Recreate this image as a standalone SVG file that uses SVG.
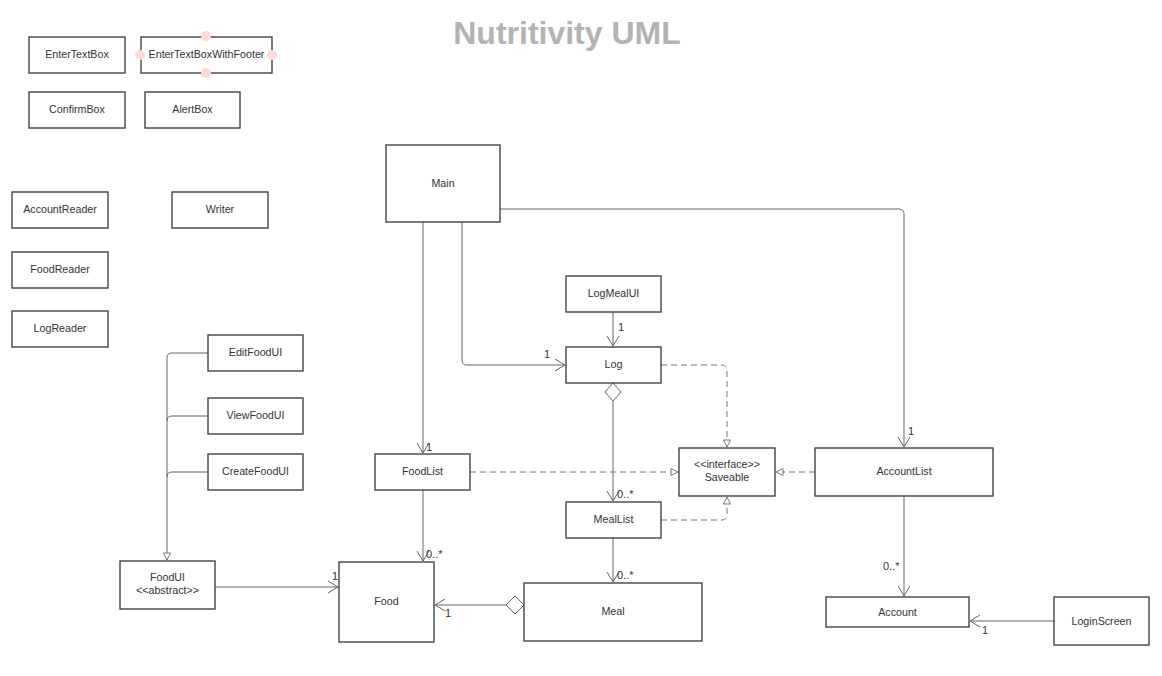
<svg xmlns="http://www.w3.org/2000/svg" width="1162" height="676" viewBox="0 0 1162 676">
<style>
.box{fill:#fff;stroke:#444;stroke-width:1.4}
.t{font-family:"Liberation Sans",Arial,sans-serif;font-size:10.7px;fill:#333;text-anchor:middle}
.lbl{font-family:"Liberation Sans",Arial,sans-serif;font-size:11px;fill:#333}
.ln{fill:none;stroke:#666;stroke-width:1}
.dash{fill:none;stroke:#777;stroke-width:1;stroke-dasharray:6,4}
.title{font-family:"Liberation Sans",Arial,sans-serif;font-size:32px;font-weight:bold;fill:#b3b3b3;text-anchor:middle}
.dot{fill:#ffd9d9}
</style>
<defs>
<marker id="open" markerUnits="userSpaceOnUse" markerWidth="13" markerHeight="14" refX="11" refY="7" orient="auto">
<path d="M1,1 L11,7 L1,13" fill="none" stroke="#666" stroke-width="1"/>
</marker>
<marker id="tri" markerUnits="userSpaceOnUse" markerWidth="10" markerHeight="10" refX="8" refY="5" orient="auto">
<path d="M1,1.5 L8,5 L1,8.5 Z" fill="#fff" stroke="#777" stroke-width="1"/>
</marker>
</defs>
<rect width="1162" height="676" fill="#fff"/>
<text class="title" x="567" y="44">Nutritivity UML</text>

<g id="connectors">
<path class="ln" d="M423,222 V453" marker-end="url(#open)"/>
<path class="ln" d="M462,222 V360 Q462,365 467,365 H565" marker-end="url(#open)"/>
<path class="ln" d="M500,209 H899 Q904,209 904,214 V447" marker-end="url(#open)"/>
<path class="ln" d="M613,312 V346" marker-end="url(#open)"/>
<path class="ln" d="M613,401 V501" marker-end="url(#open)"/>
<polygon points="613,383 621,392 613,401 605,392" fill="#fff" stroke="#666" stroke-width="1"/>
<path class="dash" d="M661,365 H722 Q727,365 727,370 V447" marker-end="url(#tri)"/>
<path class="dash" d="M470,472 H678" marker-end="url(#tri)"/>
<path class="dash" d="M815,472 H776" marker-end="url(#tri)"/>
<path class="dash" d="M661,520 H722 Q727,520 727,515 V497" marker-end="url(#tri)"/>
<path class="ln" d="M613,538 V582" marker-end="url(#open)"/>
<path class="ln" d="M423,490 V561" marker-end="url(#open)"/>
<path class="ln" d="M506,605 H435" marker-end="url(#open)"/>
<polygon points="524,605 515,614 506,605 515,596" fill="#fff" stroke="#666" stroke-width="1"/>
<path class="ln" d="M215,587 H338" marker-end="url(#open)"/>
<path class="ln" d="M208,353 H172 Q167,353 167,358 V560" marker-end="url(#tri)"/>
<path class="ln" d="M208,416 H172 Q167,416 167,421"/>
<path class="ln" d="M208,472 H172 Q167,472 167,477"/>
<path class="ln" d="M904,496 V596" marker-end="url(#open)"/>
<path class="ln" d="M1054,621 H970" marker-end="url(#open)"/>
<text class="lbl" x="426" y="451">1</text>
<text class="lbl" x="544" y="358">1</text>
<text class="lbl" x="908" y="435">1</text>
<text class="lbl" x="618" y="331">1</text>
<text class="lbl" x="617" y="498">0..*</text>
<text class="lbl" x="617" y="579">0..*</text>
<text class="lbl" x="426" y="558">0..*</text>
<text class="lbl" x="445" y="617">1</text>
<text class="lbl" x="332" y="580">1</text>
<text class="lbl" x="883" y="570">0..*</text>
<text class="lbl" x="982" y="634">1</text>
</g>

<g id="EnterTextBox"><rect class="box" x="29" y="37" width="96" height="36"/><text class="t" x="77" y="58">EnterTextBox</text></g>
<g id="EnterTextBoxWithFooter"><rect class="box" x="141" y="37" width="131" height="36"/><text class="t" x="206.5" y="58">EnterTextBoxWithFooter</text>
<circle class="dot" cx="206" cy="36" r="5"/><circle class="dot" cx="206" cy="73" r="5"/><circle class="dot" cx="140" cy="55" r="5"/><circle class="dot" cx="272" cy="55" r="5"/></g>
<g id="ConfirmBox"><rect class="box" x="29" y="92" width="96" height="36"/><text class="t" x="77" y="113">ConfirmBox</text></g>
<g id="AlertBox"><rect class="box" x="145" y="92" width="95" height="36"/><text class="t" x="192.5" y="113">AlertBox</text></g>
<g id="AccountReader"><rect class="box" x="12" y="192" width="96" height="36"/><text class="t" x="60" y="213">AccountReader</text></g>
<g id="Writer"><rect class="box" x="172" y="192" width="96" height="36"/><text class="t" x="220" y="213">Writer</text></g>
<g id="FoodReader"><rect class="box" x="12" y="252" width="96" height="36"/><text class="t" x="60" y="273">FoodReader</text></g>
<g id="LogReader"><rect class="box" x="12" y="311" width="96" height="36"/><text class="t" x="60" y="332">LogReader</text></g>
<g id="Main"><rect class="box" x="386" y="145" width="114" height="77"/><text class="t" x="443" y="187">Main</text></g>
<g id="LogMealUI"><rect class="box" x="566" y="276" width="95" height="36"/><text class="t" x="613.5" y="297">LogMealUI</text></g>
<g id="Log"><rect class="box" x="566" y="347" width="95" height="36"/><text class="t" x="613.5" y="368">Log</text></g>
<g id="EditFoodUI"><rect class="box" x="208" y="335" width="95" height="36"/><text class="t" x="255.5" y="356">EditFoodUI</text></g>
<g id="ViewFoodUI"><rect class="box" x="208" y="398" width="95" height="36"/><text class="t" x="255.5" y="419">ViewFoodUI</text></g>
<g id="CreateFoodUI"><rect class="box" x="208" y="454" width="95" height="36"/><text class="t" x="255.5" y="475">CreateFoodUI</text></g>
<g id="FoodList"><rect class="box" x="375" y="454" width="95" height="36"/><text class="t" x="422.5" y="475">FoodList</text></g>
<g id="Saveable"><rect class="box" x="679" y="448" width="96" height="48"/><text class="t" x="727" y="468">&lt;&lt;interface&gt;&gt;</text><text class="t" x="727" y="481">Saveable</text></g>
<g id="AccountList"><rect class="box" x="815" y="448" width="178" height="48"/><text class="t" x="904" y="475">AccountList</text></g>
<g id="MealList"><rect class="box" x="566" y="502" width="95" height="36"/><text class="t" x="613.5" y="523">MealList</text></g>
<g id="FoodUI"><rect class="box" x="120" y="561" width="95" height="48"/><text class="t" x="167.5" y="581">FoodUI</text><text class="t" x="167.5" y="594">&lt;&lt;abstract&gt;&gt;</text></g>
<g id="Food"><rect class="box" x="339" y="562" width="95" height="80"/><text class="t" x="386.5" y="605">Food</text></g>
<g id="Meal"><rect class="box" x="524" y="583" width="178" height="58"/><text class="t" x="613" y="615">Meal</text></g>
<g id="Account"><rect class="box" x="826" y="597" width="143" height="30"/><text class="t" x="897.5" y="616">Account</text></g>
<g id="LoginScreen"><rect class="box" x="1054" y="597" width="95" height="48"/><text class="t" x="1101.5" y="625">LoginScreen</text></g>
</svg>
